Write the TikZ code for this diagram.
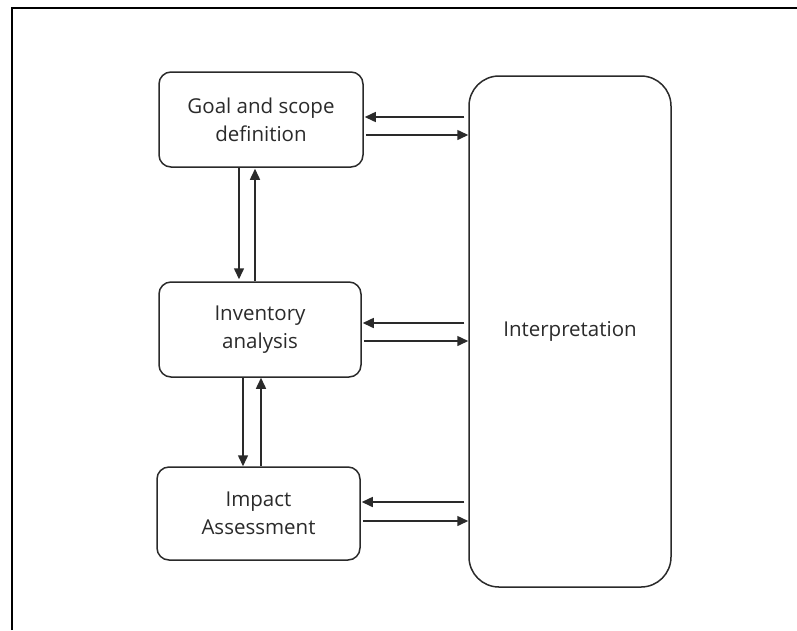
\documentclass[tikz,border=0pt]{standalone}
\usepackage{fontspec}
\setmainfont{Open Sans}
\usetikzlibrary{arrows.meta}
\definecolor{ink}{HTML}{2A2A2A}
\begin{document}
\begin{tikzpicture}[x=1pt,y=-1pt,
  box/.style={draw=ink,line width=1.5pt,rounded corners=12pt,align=center,
    inner sep=0pt,font=\fontsize{20.5}{28}\selectfont,text=ink},
  arr/.style={draw=ink,line width=1.5pt,-{Triangle[length=11pt,width=10pt]}}]
\useasboundingbox (0,0) rectangle (797,630);
\draw[line width=2pt] (11.5,630) -- (11.5,7.5) -- (797,7.5);
\node[box,minimum width=204pt,minimum height=95pt] (goal) at (261,119.5) {Goal and scope\\definition};
\node[box,minimum width=202pt,minimum height=95pt] (inv) at (260,329.5) {Inventory\\analysis};
\node[box,minimum width=203pt,minimum height=93pt] (imp) at (258.5,513.5) {Impact\\Assessment};
\node[box,rounded corners=30pt,minimum width=202pt,minimum height=511pt] (interp) at (570,331.5) {Interpretation};
% horizontal arrows
\draw[arr] ([xshift=-4pt]interp.west |- 0,117) -- ([xshift=1pt]goal.east |- 0,117);
\draw[arr] ([xshift=2pt]goal.east |- 0,135) -- (interp.west |- 0,135);
\draw[arr] ([xshift=-4pt]interp.west |- 0,323) -- ([xshift=1pt]inv.east |- 0,323);
\draw[arr] ([xshift=2pt]inv.east |- 0,341) -- (interp.west |- 0,341);
\draw[arr] ([xshift=-4pt]interp.west |- 0,502) -- ([xshift=1pt]imp.east |- 0,502);
\draw[arr] ([xshift=2pt]imp.east |- 0,521) -- (interp.west |- 0,521);
% vertical arrows
\draw[arr] (goal.south -| 239,0) -- ([yshift=2pt]inv.north -| 239,0);
\draw[arr] (inv.north -| 255,0) -- ([yshift=-1pt]goal.south -| 255,0);
\draw[arr] (inv.south -| 243,0) -- (imp.north -| 243,0);
\draw[arr] (imp.north -| 261,0) -- (inv.south -| 261,0);
\end{tikzpicture}
\end{document}
